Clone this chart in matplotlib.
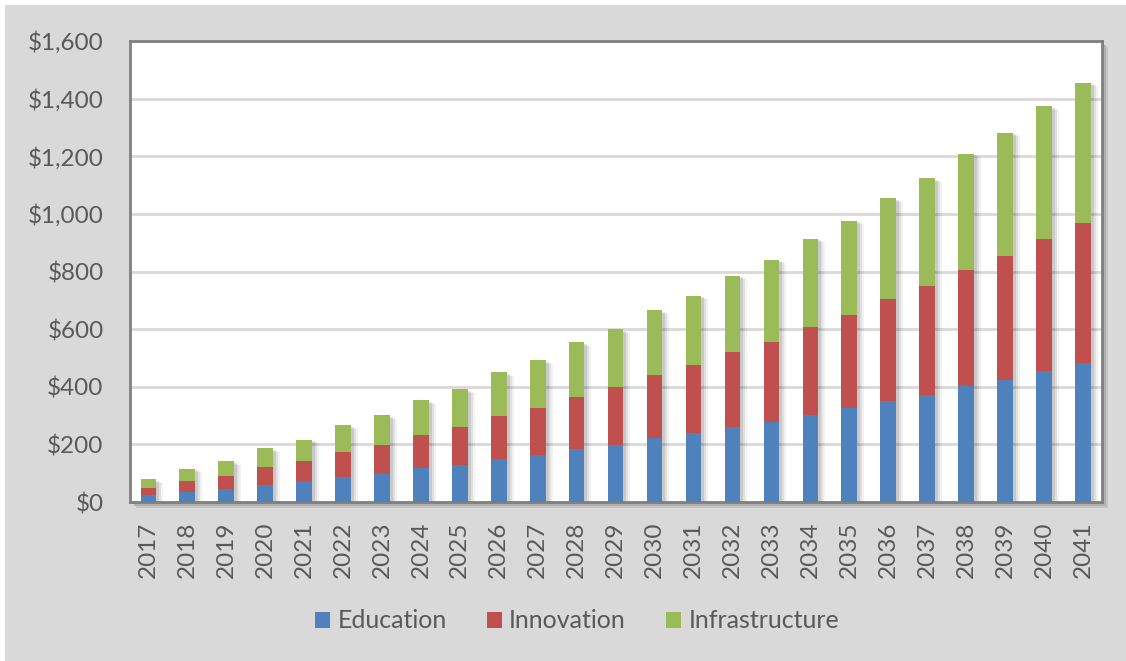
import numpy as np
import matplotlib.pyplot as plt
from matplotlib.patches import Rectangle
from matplotlib.transforms import ScaledTranslation

# ----------------------------
# Data
# ----------------------------
years = [str(y) for y in range(2017, 2042)]

education = [24, 34, 44, 59, 70, 86, 97, 117, 128, 148, 163, 184, 199,
             221, 238, 260, 278, 303, 325, 350, 372, 401, 425, 455, 484]
innovation = [26, 40, 46, 64, 74, 89, 102, 117, 131, 151, 163, 182, 200,
              220, 238, 261, 279, 305, 323, 353, 376, 403, 429, 459, 486]
infrastructure = [29, 41, 52, 64, 72, 92, 102, 120, 132, 152, 166, 189, 201,
                  224, 239, 264, 283, 306, 329, 352, 376, 404, 428, 460, 485]

series_names = ["Education", "Innovation", "Infrastructure"]
series_colors = ["#4f81bd", "#c0504d", "#9bbb59"]

y_ticks = [0, 200, 400, 600, 800, 1000, 1200, 1400, 1600]

# ----------------------------
# Figure
# ----------------------------
W, H = 1126, 661
fig = plt.figure(figsize=(W / 100, H / 100), dpi=100, facecolor="white")
plt.rcParams["font.family"] = ["Lato", "DejaVu Sans"]

# gray panel behind everything (thin white strip top and left)
fig.patches.append(Rectangle((5 / W, 0), 1 - 5 / W, 1 - 5 / H,
                             transform=fig.transFigure, facecolor="#d9d9d9",
                             edgecolor="none", zorder=-10))

left, right, top, bottom = 130, 1102, 41, 502
ax = fig.add_axes([left / W, 1 - bottom / H, (right - left) / W, (bottom - top) / H])

# drop shadow of plot frame
for off, col in [(6, "#c4c4c4"), (4, "#b0b0b0"), (2, "#999999")]:
    fig.patches.append(Rectangle(((left + off) / W, 1 - (bottom + off) / H),
                                 (right - left) / W, (bottom - top) / H,
                                 transform=fig.transFigure, facecolor=col,
                                 edgecolor="none", zorder=-5))

ax.set_facecolor("white")
x = np.arange(len(years))
edu = np.array(education)
inn = np.array(innovation)
inf = np.array(infrastructure)
total = edu + inn + inf

# soft bar shadows
for k, a in [(7, 0.05), (5, 0.07), (3, 0.10)]:
    tr = ax.transData + ScaledTranslation(k / 100, -k / 200, fig.dpi_scale_trans)
    ax.bar(x, total, width=0.4, color="black", alpha=a, transform=tr,
           zorder=2, linewidth=0)

bottoms = np.zeros(len(years))
for vals, name, col in zip([edu, inn, inf], series_names, series_colors):
    ax.bar(x, vals, bottom=bottoms, width=0.4, color=col, label=name,
           zorder=3, linewidth=0)
    bottoms = bottoms + vals

ax.set_xlim(-0.47, len(years) - 1 + 0.49)
ax.set_ylim(0, 1600)
ax.set_yticks(y_ticks)
ax.set_yticklabels([f"${v:,}" for v in y_ticks])
ax.set_xticks(x)
ax.set_xticklabels(years, rotation=90)
ax.tick_params(axis="y", length=0, pad=19, labelsize=17.5, labelcolor="#595959")
ax.tick_params(axis="x", length=0, pad=14, labelsize=17.5, labelcolor="#595959")

ax.yaxis.grid(True, color="#d9d9d9", linewidth=2, zorder=1)
ax.set_axisbelow(True)
for s in ax.spines.values():
    s.set_color("#808080")
    s.set_linewidth(2)

leg = fig.legend(*ax.get_legend_handles_labels(), loc="center",
                 bbox_to_anchor=(577 / W, 1 - 621 / H), ncol=3, frameon=False,
                 fontsize=18, handlelength=0.6, handleheight=0.6,
                 handletextpad=0.3, columnspacing=1.6, labelcolor="#595959")

fig.savefig("out.png", dpi=100, facecolor=fig.get_facecolor())
